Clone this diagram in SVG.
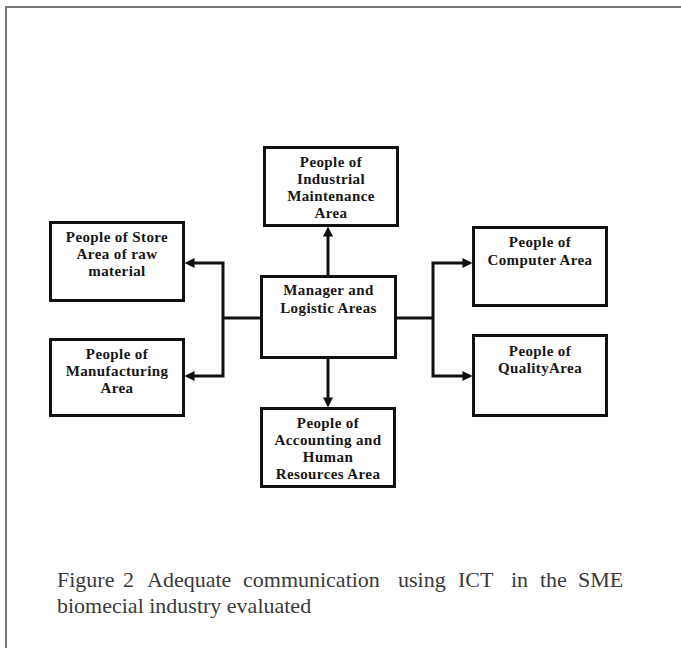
<svg xmlns="http://www.w3.org/2000/svg" width="681" height="648" viewBox="0 0 681 648">
<defs>
<style>
.box{fill:#fff;stroke:#111;stroke-width:3}
.lbl{font-family:"Liberation Serif","Times New Roman",serif;font-weight:bold;font-size:15px;letter-spacing:0.4px;fill:#161616;text-anchor:middle}
.con{fill:none;stroke:#111;stroke-width:3;stroke-linejoin:miter}
.cap{font-family:"Liberation Serif","Times New Roman",serif;font-size:22px;fill:#3a3a3a}
</style>
<marker id="ah" markerUnits="userSpaceOnUse" markerWidth="10" markerHeight="10" viewBox="0 0 9 9" refX="5" refY="4.5" orient="auto">
<path d="M0,0 L9,4.5 L0,9 z" fill="#111"/>
</marker>
</defs>
<rect width="681" height="648" fill="#fff"/>
<path d="M5,7 H681 M6,7 V648" fill="none" stroke="#777" stroke-width="2"/>

<g id="connectors">
<path class="con" d="M328,275 V231" marker-end="url(#ah)"/>
<path class="con" d="M328,359 V403" marker-end="url(#ah)"/>
<path class="con" d="M260,318 H223"/>
<path class="con" d="M223,318 V263 H189" marker-end="url(#ah)"/>
<path class="con" d="M223,318 V376 H189" marker-end="url(#ah)"/>
<path class="con" d="M397,318 H433"/>
<path class="con" d="M433,318 V263 H468" marker-end="url(#ah)"/>
<path class="con" d="M433,318 V376 H468" marker-end="url(#ah)"/>
</g>

<g id="store">
<rect class="box" x="50.5" y="222.5" width="133" height="78"/>
<text class="lbl" x="117" y="242">People of Store</text>
<text class="lbl" x="117" y="259">Area of raw</text>
<text class="lbl" x="117" y="276">material</text>
</g>

<g id="maintenance">
<rect class="box" x="264.5" y="147.5" width="133" height="78"/>
<text class="lbl" x="331" y="167">People of</text>
<text class="lbl" x="331" y="184">Industrial</text>
<text class="lbl" x="331" y="201">Maintenance</text>
<text class="lbl" x="331" y="218">Area</text>
</g>

<g id="manager">
<rect class="box" x="261.5" y="276.5" width="134" height="81"/>
<text class="lbl" x="328.5" y="295">Manager and</text>
<text class="lbl" x="328.5" y="313">Logistic Areas</text>
</g>

<g id="computer">
<rect class="box" x="473.5" y="227.5" width="133" height="78"/>
<text class="lbl" x="540" y="247">People of</text>
<text class="lbl" x="540" y="265">Computer Area</text>
</g>

<g id="quality">
<rect class="box" x="473.5" y="335.5" width="133" height="80"/>
<text class="lbl" x="540" y="356">People of</text>
<text class="lbl" x="540" y="373">QualityArea</text>
</g>

<g id="manufacturing">
<rect class="box" x="50.5" y="339.5" width="133" height="76"/>
<text class="lbl" x="117" y="359">People of</text>
<text class="lbl" x="117" y="376">Manufacturing</text>
<text class="lbl" x="117" y="393">Area</text>
</g>

<g id="accounting">
<rect class="box" x="261.5" y="408.5" width="133" height="78"/>
<text class="lbl" x="328" y="428">People of</text>
<text class="lbl" x="328" y="445">Accounting and</text>
<text class="lbl" x="328" y="462">Human</text>
<text class="lbl" x="328" y="479">Resources Area</text>
</g>

<g id="caption">
<text class="cap" y="587"><tspan x="57">Figure</tspan><tspan x="123">2</tspan><tspan x="147">Adequate</tspan><tspan x="243">communication</tspan><tspan x="398">using</tspan><tspan x="458">ICT</tspan><tspan x="511">in</tspan><tspan x="540">the</tspan><tspan x="578">SME</tspan></text>
<text class="cap" x="57" y="613">biomecial industry evaluated</text>
</g>
</svg>
